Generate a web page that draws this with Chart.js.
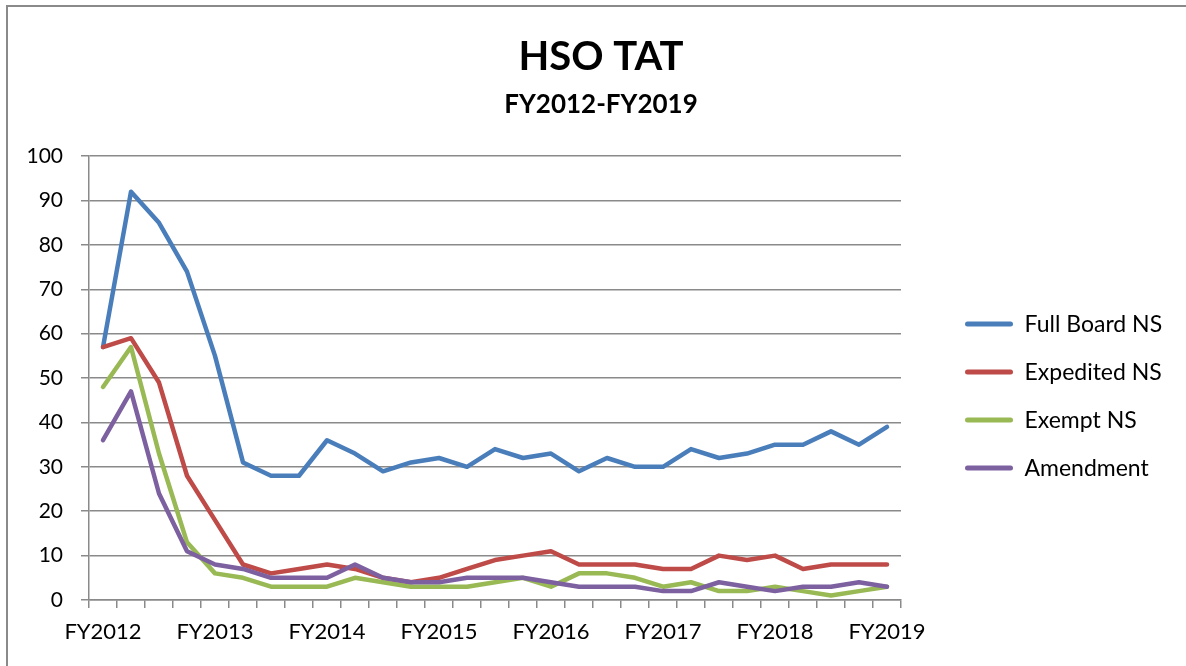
<!DOCTYPE html>
<html>
<head>
<meta charset="utf-8">
<title>HSO TAT</title>
<script src="https://cdn.jsdelivr.net/npm/chart.js@4.4.0/dist/chart.umd.min.js"></script>
<style>
  html, body { margin: 0; padding: 0; background: #fff; overflow: hidden; }
  #frame { position: absolute; left: 6px; top: 5px; width: 1300px; height: 800px;
           border-left: 2px solid #8a8a8a; border-top: 2px solid #8a8a8a; }
  #chart { position: absolute; left: 0; top: 0; }
</style>
</head>
<body>
<div id="frame"></div>
<canvas id="chart" width="1202" height="666"></canvas>
<script>
// quarterly points, labelled once per fiscal year
const categories = [
  'FY2012', '', '', '',
  'FY2013', '', '', '',
  'FY2014', '', '', '',
  'FY2015', '', '', '',
  'FY2016', '', '', '',
  'FY2017', '', '', '',
  'FY2018', '', '', '',
  'FY2019'
];
const fullBoard = [57, 92, 85, 74, 55, 31, 28, 28, 36, 33, 29, 31, 32, 30, 34, 32, 33, 29, 32, 30, 30, 34, 32, 33, 35, 35, 38, 35, 39];
const expedited = [57, 59, 49, 28, 18, 8, 6, 7, 8, 7, 5, 4, 5, 7, 9, 10, 11, 8, 8, 8, 7, 7, 10, 9, 10, 7, 8, 8, 8];
const exempt    = [48, 57, 33, 13, 6, 5, 3, 3, 3, 5, 4, 3, 3, 3, 4, 5, 3, 6, 6, 5, 3, 4, 2, 2, 3, 2, 1, 2, 3];
const amendment = [36, 47, 24, 11, 8, 7, 5, 5, 5, 8, 5, 4, 4, 5, 5, 5, 4, 3, 3, 3, 2, 2, 4, 3, 2, 3, 3, 4, 3];
const seriesNames = ['Full Board NS', 'Expedited NS', 'Exempt NS', 'Amendment'];
const seriesColors = ['#4A7EBB', '#BE4B48', '#98B954', '#7D60A0'];
const yTicks = { min: 0, max: 100, step: 10 };

const GRID = '#8a8a8a';
const LEGEND_FONT = 23;
const LEGEND_BOX = 48;
const LEGEND_PAD = 25;
const CANVAS_W = 1202;
const PLOT_LEFT = 89;
const PLOT_RIGHT = 901;
const LEGEND_LEFT = 965 - LEGEND_PAD;

Chart.defaults.font.family = 'Lato';

const allSeries = [fullBoard, expedited, exempt, amendment];
const datasets = allSeries.map((vals, i) => ({
  label: seriesNames[i],
  data: vals,
  borderColor: seriesColors[i],
  backgroundColor: seriesColors[i],
  borderWidth: 4.5,
  borderJoinStyle: 'round',
  borderCapStyle: 'round',
  pointRadius: 0,
  pointHoverRadius: 0,
  tension: 0,
  fill: false,
  order: allSeries.length - i   // later series drawn on top, like the original
}));

// empty spacer axes on the right: one before the legend, one after it
const spacer = (weight, width) => ({
  axis: 'y',
  type: 'linear',
  position: 'right',
  weight: weight,
  grid: { display: false },
  ticks: { display: false },
  border: { display: false },
  afterFit: s => { s.width = width(s); }
});

new Chart(document.getElementById('chart'), {
  type: 'line',
  data: { labels: categories, datasets: datasets },
  options: {
    responsive: false,
    animation: false,
    layout: { padding: 0 },
    scales: {
      x: {
        type: 'category',
        offset: true,
        grid: { offset: true, drawOnChartArea: false, drawTicks: true, tickLength: 8, color: GRID, lineWidth: 1.5 },
        border: { color: GRID, width: 1.5 },
        ticks: { autoSkip: false, maxRotation: 0, color: '#000', font: { size: 22 }, padding: 11 },
        afterFit: s => { s.height = 66; }
      },
      y: {
        min: yTicks.min,
        max: yTicks.max,
        ticks: { stepSize: yTicks.step, color: '#000', font: { size: 21 }, padding: 18 },
        grid: { color: GRID, lineWidth: 1.5, tickLength: 8 },
        border: { color: GRID, width: 1.5 },
        afterFit: s => { s.width = PLOT_LEFT; }
      },
      gap: spacer(0, () => LEGEND_LEFT - PLOT_RIGHT),
      edge: spacer(2000, s => Math.max(0, CANVAS_W - LEGEND_LEFT - (s.chart.legend ? s.chart.legend.width : 0)))
    },
    plugins: {
      title: {
        display: true,
        text: 'HSO TAT',
        color: '#000',
        font: { size: 40, weight: 'bold' },
        padding: { top: 33, bottom: 4 }
      },
      subtitle: {
        display: true,
        text: 'FY2012-FY2019',
        color: '#000',
        font: { size: 26, weight: 'bold' },
        padding: { top: 4, bottom: 36 }
      },
      legend: {
        position: 'right',
        fullSize: false,
        maxWidth: 400,
        title: { display: true, text: ' ', font: { size: 30, lineHeight: 1.2 }, padding: 0 },
        labels: {
          boxWidth: LEGEND_BOX,
          boxHeight: 5,
          padding: LEGEND_PAD,
          color: '#000',
          font: { size: LEGEND_FONT },
          useBorderRadius: true,
          borderRadius: 2.5,
          generateLabels: chart => Chart.defaults.plugins.legend.labels.generateLabels(chart)
            .sort((a, b) => a.datasetIndex - b.datasetIndex)
            .map(l => Object.assign(l, { lineWidth: 0, fillStyle: l.strokeStyle }))
        }
      },
      tooltip: { enabled: false }
    }
  }
});
</script>
</body>
</html>
